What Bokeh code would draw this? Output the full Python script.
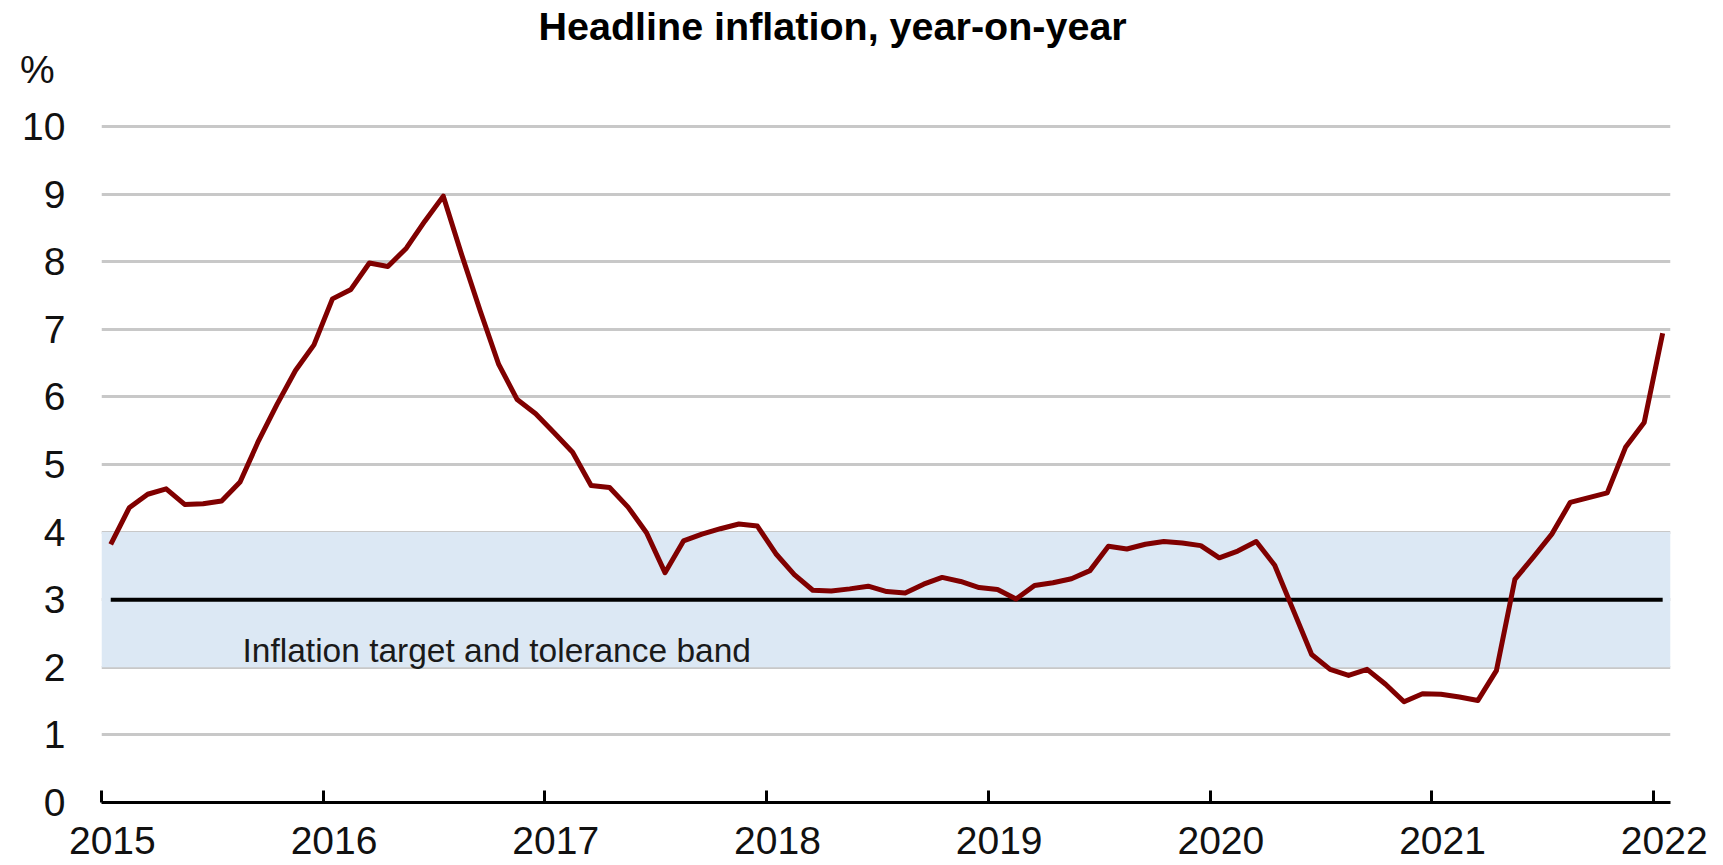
from bokeh.plotting import figure
from bokeh.models import Range1d, FixedTicker, Label
from bokeh.embed import file_html
from bokeh.resources import INLINE

# ---- data (monthly, year-on-year %, Jan 2015 .. Jan 2022) ----
years = [2015, 2016, 2017, 2018, 2019, 2020, 2021, 2022]
year_labels = ["2015", "2016", "2017", "2018", "2019", "2020", "2021", "2022"]
infl_2015 = [3.82, 4.36, 4.56, 4.64, 4.41, 4.42, 4.46, 4.74, 5.35, 5.89, 6.39, 6.77]
infl_2016 = [7.45, 7.59, 7.98, 7.93, 8.20, 8.60, 8.97, 8.10, 7.27, 6.48, 5.96, 5.75]
infl_2017 = [5.47, 5.18, 4.69, 4.66, 4.37, 3.99, 3.40, 3.87, 3.97, 4.05, 4.12, 4.09]
infl_2018 = [3.68, 3.37, 3.14, 3.13, 3.16, 3.20, 3.12, 3.10, 3.23, 3.33, 3.27, 3.18]
infl_2019 = [3.15, 3.01, 3.21, 3.25, 3.31, 3.43, 3.79, 3.75, 3.82, 3.86, 3.84, 3.80]
infl_2020 = [3.62, 3.72, 3.86, 3.51, 2.85, 2.19, 1.97, 1.88, 1.97, 1.75, 1.49, 1.61]
infl_2021 = [1.60, 1.56, 1.51, 1.95, 3.30, 3.63, 3.97, 4.44, 4.51, 4.58, 5.26, 5.62]
infl_2022 = [6.94]
yticks = [0, 1, 2, 3, 4, 5, 6, 7, 8, 9, 10]
target = 3.0
band_low = 2.0
band_high = 4.0
title_text = "Headline inflation, year-on-year"
band_text = "Inflation target and tolerance band"
unit_text = "%"

series = [infl_2015, infl_2016, infl_2017, infl_2018, infl_2019, infl_2020, infl_2021, infl_2022]
dates, values = [], []
for yr, vals in zip(years, series):
    for m, v in enumerate(vals):
        dates.append(yr + (m + 0.5) / 12.0)
        values.append(v)

FONT = "Liberation Sans"
NBSP = "\u00a0"
X0, X1 = 2015.0, 2022.077
Y0, Y1 = 0.0, 11.864          # frame reaches the top of the canvas; gridlines stop at 10
UNIT_POS = 10.84              # where the "%" unit marker sits on the value axis

p = figure(width=1723, height=865, output_backend="svg", toolbar_location=None,
           title=None,
           x_range=Range1d(X0, X1), y_range=Range1d(Y0, Y1),
           min_border_left=101, min_border_right=53, min_border_top=0, min_border_bottom=63)
p.outline_line_color = None
p.background_fill_color = "white"
p.border_fill_color = "white"

# grid
p.xgrid.grid_line_color = None
p.ygrid.ticker = FixedTicker(ticks=yticks)
p.ygrid.grid_line_color = "#c8c8c8"
p.ygrid.grid_line_width = 3

# tolerance band
p.quad(left=[X0], right=[X1], bottom=[band_low], top=[band_high],
       fill_color="#dce8f4", line_color=None)

# target line
p.line([dates[0], dates[-1]], [target, target], line_color="black", line_width=4)

# inflation line
p.line(dates, values, line_color="#800000", line_width=5, line_join="round")

# axes
xa = p.xaxis[0]
xa.ticker = FixedTicker(ticks=years)
# year labels sit centred on January, slightly right of the year-boundary tick
xa.major_label_overrides = {y: NBSP * 2 + s for y, s in zip(years, year_labels)}
xa.axis_line_color = "black"
xa.axis_line_width = 3
xa.major_tick_line_color = "black"
xa.major_tick_line_width = 3
xa.major_tick_in = 12
xa.major_tick_out = 0
xa.minor_tick_line_color = None
xa.major_label_standoff = 16
xa.major_label_text_font = FONT
xa.major_label_text_font_size = "39px"
xa.major_label_text_color = "#111111"

ya = p.yaxis[0]
ya.ticker = FixedTicker(ticks=yticks + [UNIT_POS])
ya.major_label_overrides = {UNIT_POS: unit_text + NBSP}
ya.axis_line_color = None
ya.major_tick_line_color = None
ya.minor_tick_line_color = None
ya.major_tick_in = 0
ya.major_tick_out = 0
ya.major_label_standoff = 36
ya.major_label_text_font = FONT
ya.major_label_text_font_size = "39px"
ya.major_label_text_color = "#111111"

# title
p.add_layout(Label(x=2016.971, y=11.161, text=title_text, text_font=FONT,
                   text_font_size="39.5px", text_font_style="bold", text_color="black",
                   text_align="left", text_baseline="bottom"))

# band annotation
p.add_layout(Label(x=2015.636, y=1.98, text=band_text, text_font=FONT,
                   text_font_size="33.5px", text_color="#1a1a1a",
                   text_align="left", text_baseline="bottom"))

open("out.html", "w").write(file_html(p, INLINE))
